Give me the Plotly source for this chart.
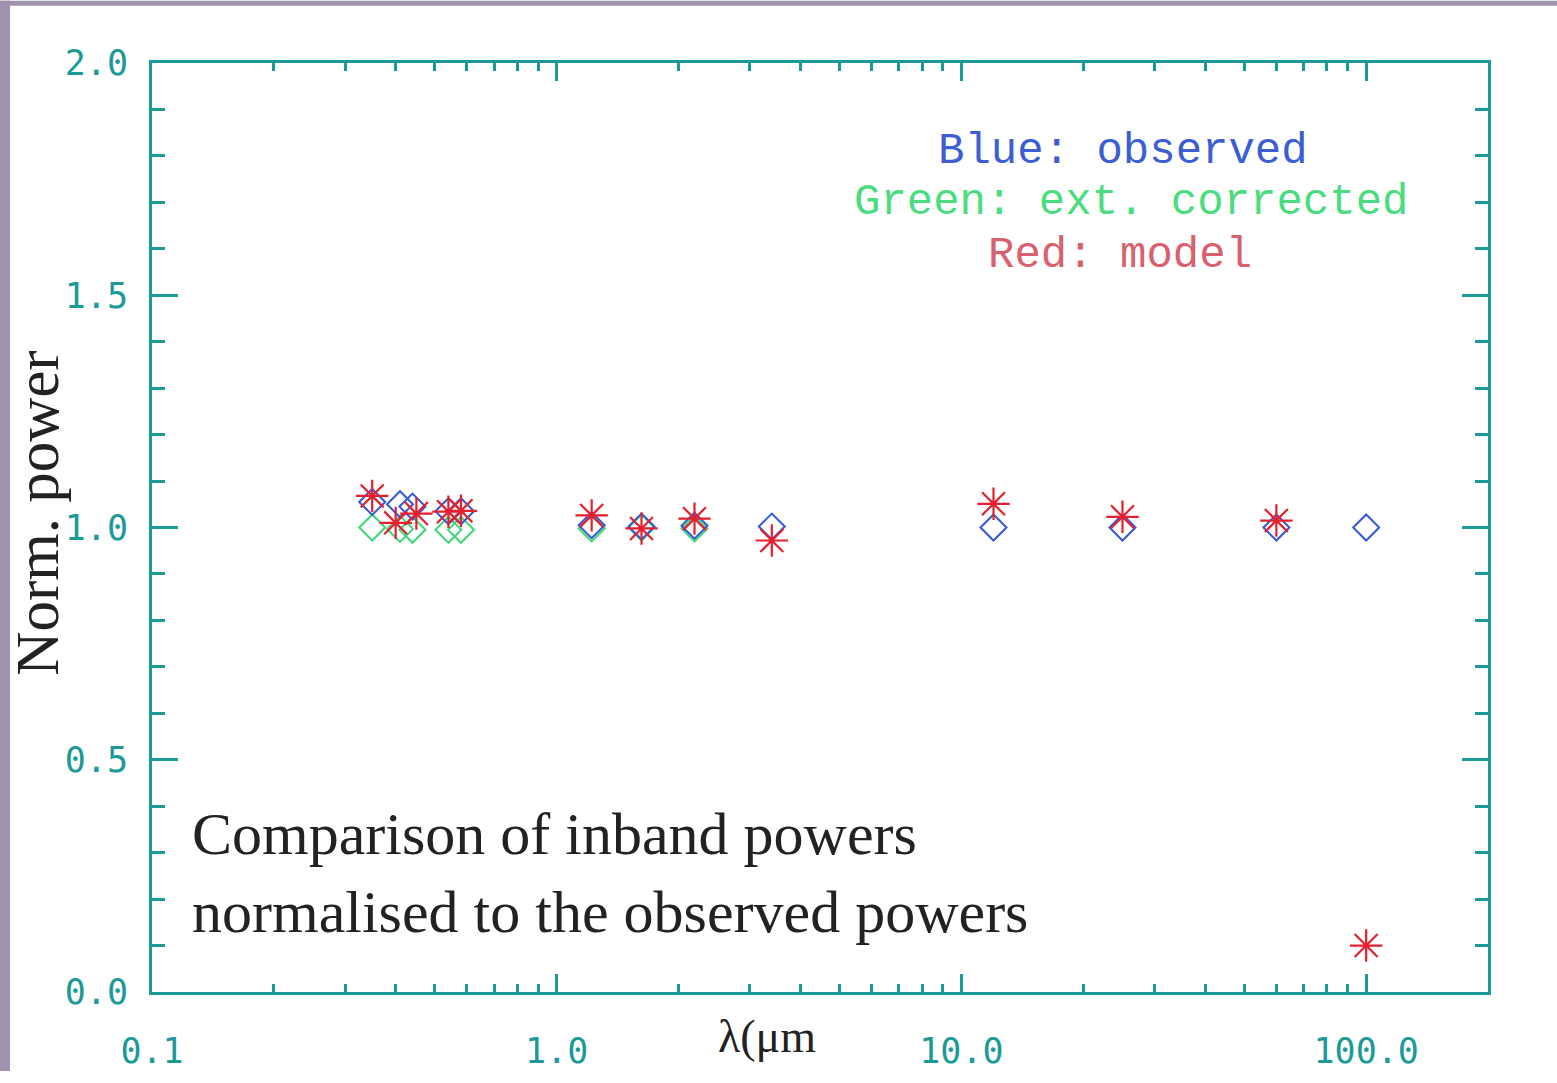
import plotly.graph_objects as go

# ---- data ----
blue_x = [0.35, 0.41, 0.44, 0.54, 0.58, 1.22, 1.62, 2.19, 3.4, 12, 25, 60, 100]
blue_y = [1.055, 1.05, 1.045, 1.035, 1.035, 1.005, 1.002, 1.004, 1.002, 1.0, 1.0, 1.0, 1.0]
green_x = [0.35, 0.41, 0.44, 0.54, 0.58, 1.22, 1.62, 2.19]
green_y = [1.0, 0.997, 0.995, 0.995, 0.995, 0.998, 1.0, 0.998]
red_x = [0.35, 0.40, 0.45, 0.54, 0.58, 1.22, 1.62, 2.19, 3.4, 12, 25, 60, 100]
red_y = [1.068, 1.01, 1.03, 1.034, 1.036, 1.026, 0.998, 1.019, 0.972, 1.051, 1.023, 1.015, 0.1]

x_tickvals = [0.1, 1, 10, 100]
x_ticktext = ["0.1", "1.0", "10.0", "100.0"]
x_minor = [m * d for d in (0.1, 1, 10) for m in range(2, 10)]
y_tickvals = [0, 0.5, 1.0, 1.5, 2.0]
y_ticktext = ["0.0", "0.5", "1.0", "1.5", "2.0"]

W, H = 1557, 1083
L, R, T, B = 152, 1488, 63, 1003
PW, PH = R - L, B - T

def px(x):
    return (x - L) / PW

def py(y):
    return (B - y) / PH

AX = "#1b9a98"
PURPLE = "#a092ae"

fig = go.Figure()
fig.add_trace(go.Scatter(x=green_x, y=green_y, mode="markers",
                         marker=dict(symbol="diamond-open", size=20, color="#3ed777",
                                     line=dict(width=2, color="#3ed777")), showlegend=False))
fig.add_trace(go.Scatter(x=blue_x, y=blue_y, mode="markers",
                         marker=dict(symbol="diamond-open", size=20, color="#3458d6",
                                     line=dict(width=2, color="#3458d6")), showlegend=False))
fig.add_trace(go.Scatter(x=red_x, y=red_y, mode="markers",
                         marker=dict(symbol="asterisk-open", size=27, color="#e5202e",
                                     line=dict(width=2.2, color="#e5202e")), showlegend=False))

tickfont = dict(family="DejaVu Sans Mono", size=35, color=AX)

fig.update_xaxes(type="log", range=[-1, 2.30103], showgrid=False, zeroline=False,
                 showline=True, linecolor=AX, linewidth=3, mirror="ticks",
                 ticks="inside", ticklen=18, tickwidth=3, tickcolor=AX,
                 tickvals=x_tickvals, ticktext=x_ticktext, tickfont=tickfont,
                 ticklabelstandoff=26,
                 minor=dict(ticks="inside", ticklen=8, tickwidth=3, tickcolor=AX,
                            tickvals=x_minor, showgrid=False))
fig.update_yaxes(range=[0, 2], showgrid=False, zeroline=False,
                 showline=True, linecolor=AX, linewidth=3, mirror="ticks",
                 ticks="inside", ticklen=26, tickwidth=3, tickcolor=AX,
                 tickvals=y_tickvals, ticktext=y_ticktext, tickfont=tickfont,
                 ticklabelstandoff=14,
                 minor=dict(ticks="inside", ticklen=13, tickwidth=3, tickcolor=AX,
                            dtick=0.1, showgrid=False))

annos = [
    dict(text="Blue: observed", x=px(1123), y=py(152), color="#3d5ed2"),
    dict(text="Green: ext. corrected", x=px(1131), y=py(204), color="#4bdc80"),
    dict(text="Red: model", x=px(1120), y=py(257), color="#d9606e"),
]
for a in annos:
    fig.add_annotation(text=a["text"], x=a["x"], y=a["y"], xref="paper", yref="paper",
                       xanchor="center", yanchor="middle", showarrow=False,
                       font=dict(family="Liberation Mono", size=44, color=a["color"]))

fig.add_annotation(text="Comparison of inband powers<br>normalised to the observed powers",
                   x=px(190), y=py(883), xref="paper", yref="paper", xanchor="left",
                   yanchor="middle", align="left", showarrow=False,
                   font=dict(family="Liberation Serif", size=60, color="#222222"))
fig.add_annotation(text="λ(μm", x=px(767), y=py(1048), xref="paper", yref="paper",
                   xanchor="center", yanchor="middle", showarrow=False,
                   font=dict(family="Liberation Serif", size=46, color="#222222"))
fig.add_annotation(text="Norm. power", x=px(38), y=py(518), xref="paper", yref="paper",
                   xanchor="center", yanchor="middle", showarrow=False, textangle=-90,
                   font=dict(family="Liberation Serif", size=61, color="#222222"))

fig.add_shape(type="rect", xref="paper", yref="paper", x0=px(0), x1=px(10), y0=py(H), y1=py(0),
              fillcolor=PURPLE, line=dict(width=0), layer="above")
fig.add_shape(type="rect", xref="paper", yref="paper", x0=px(0), x1=px(W), y0=py(5), y1=py(0),
              fillcolor=PURPLE, line=dict(width=0), layer="above")

fig.update_layout(width=W, height=H, margin=dict(l=L, r=W - R, t=T, b=H - B),
                  paper_bgcolor="white", plot_bgcolor="white")

fig.write_html("out.html")
